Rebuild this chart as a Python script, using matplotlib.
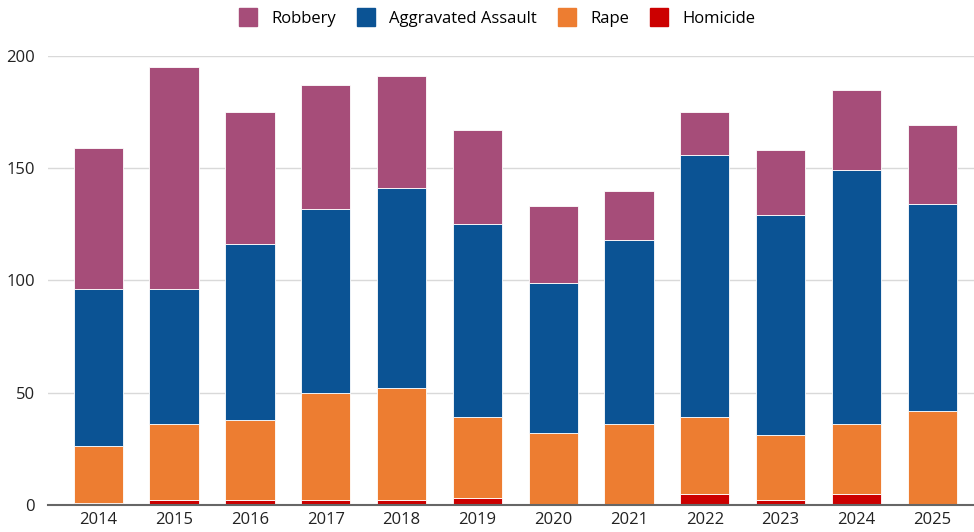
import numpy as np
import matplotlib.pyplot as plt
from matplotlib.lines import Line2D

years = ['2014', '2015', '2016', '2017', '2018', '2019', '2020', '2021', '2022', '2023', '2024', '2025']
homicide = [1, 2, 2, 2, 2, 3, 0, 0, 5, 2, 5, 0]
rape = [25, 34, 36, 48, 50, 36, 32, 36, 34, 29, 31, 42]
assault = [70, 60, 78, 82, 89, 86, 67, 82, 117, 98, 113, 92]
robbery = [63, 99, 59, 55, 50, 42, 34, 22, 19, 29, 36, 35]

colors = {'Robbery': '#A64D79', 'Aggravated Assault': '#0B5394', 'Rape': '#ED7D31', 'Homicide': '#CC0000'}

plt.rcParams['font.family'] = ['Open Sans', 'DejaVu Sans']
fig = plt.figure(figsize=(9.74, 5.32), dpi=100)
ax = fig.add_axes([0.049, 0.051, 0.951, 0.844])

x = np.arange(len(years))
w = 0.65
bottom = np.zeros(len(years))
series = [('Homicide', homicide), ('Rape', rape), ('Aggravated Assault', assault), ('Robbery', robbery)]
for name, vals in series:
    vals = np.array(vals, dtype=float)
    ax.bar(x, vals, w, bottom=bottom, color=colors[name], edgecolor='white', linewidth=0.6, label=name, zorder=3)
    bottom += vals

ax.set_ylim(0, 200)
ax.set_xlim(-0.666, 11.55)
ax.set_yticks([0, 50, 100, 150, 200])
ax.set_xticks(x)
ax.set_xticklabels(years)
ax.grid(axis='y', color='#d9d9d9', linewidth=1, zorder=0)
for s in ['top', 'right', 'left']:
    ax.spines[s].set_visible(False)
ax.spines['bottom'].set_color('#666666')
ax.spines['bottom'].set_linewidth(1.5)
ax.spines['bottom'].set_zorder(4)
ax.tick_params(axis='both', length=0, labelsize=12, colors='#222222')
ax.tick_params(axis='y', pad=9)
ax.tick_params(axis='x', pad=5)

leg_names = ['Robbery', 'Aggravated Assault', 'Rape', 'Homicide']
handles = [Line2D([], [], linestyle='none', marker='s', markersize=12.5,
                  markerfacecolor=colors[n], markeredgecolor=colors[n]) for n in leg_names]
fig.legend(handles, leg_names, loc='upper center',
           bbox_to_anchor=(0.511, 1.008), ncol=4, frameon=False, fontsize=12,
           handlelength=1.0, columnspacing=1.3, handletextpad=0.9)

fig.savefig('out.png', dpi=100)
